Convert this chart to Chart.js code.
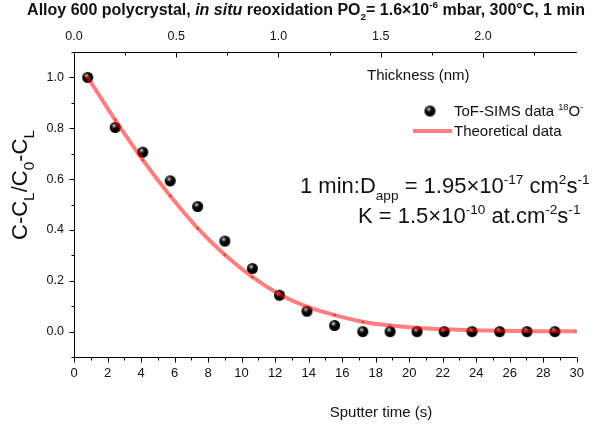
<!DOCTYPE html>
<html>
<head>
<meta charset="utf-8">
<script src="https://cdn.jsdelivr.net/npm/chart.js@4"></script>
<style>
  html, body { margin: 0; padding: 0; background: #fff; }
  #chart { display: block; }
</style>
</head>
<body>
<canvas id="chart" width="593" height="428"></canvas>
<script>
// Data
const sputterTime = [0.82, 2.46, 4.10, 5.74, 7.38, 9.00, 10.64, 12.26, 13.90, 15.55, 17.23, 18.86, 20.47, 22.09, 23.75, 25.40, 27.03, 28.69];
const tofSims = [1.0, 0.803, 0.706, 0.593, 0.492, 0.356, 0.248, 0.143, 0.080, 0.024, 0.0, 0.0, 0.0, 0.0, 0.0, 0.0, 0.0, 0.0];
const theoryTime = [0.82, 2.46, 4.10, 5.74, 7.38, 9.00, 10.64, 12.26, 13.90, 15.55, 17.23, 18.86, 20.47, 22.09, 23.75, 25.40, 27.03, 28.69, 30.0];
const theoretical = [1.0, 0.833, 0.676, 0.534, 0.407, 0.302, 0.215, 0.147, 0.098, 0.065, 0.039, 0.024, 0.015, 0.009, 0.005, 0.003, 0.002, 0.001, 0.001];
const timeTicks = [0, 2, 4, 6, 8, 10, 12, 14, 16, 18, 20, 22, 24, 26, 28, 30];
const thicknessTicks = [0.0, 0.5, 1.0, 1.5, 2.0];
const yTicks = [0.0, 0.2, 0.4, 0.6, 0.8, 1.0];

const FONT = 'Arial, "Liberation Sans", sans-serif';
const LINE_RED = "rgba(255, 0, 0, 0.5)";

// black shaded sphere used as the data marker
const makeBall = (r) => {
  const c = document.createElement("canvas");
  const s = Math.ceil(r * 2 + 2);
  c.width = s; c.height = s;
  const g = c.getContext("2d");
  const m = s / 2;
  g.beginPath();
  g.arc(m, m, r, 0, Math.PI * 2);
  g.fillStyle = "#000";
  g.fill();
  const hl = g.createRadialGradient(m - 1.2, m - 1.8, 0, m - 1.2, m - 1.8, r * 0.75);
  hl.addColorStop(0, "rgba(255,255,255,0.95)");
  hl.addColorStop(0.35, "rgba(200,200,200,0.5)");
  hl.addColorStop(1, "rgba(0,0,0,0)");
  g.beginPath();
  g.arc(m, m, r, 0, Math.PI * 2);
  g.fillStyle = hl;
  g.fill();
  return c;
};
const BALL = makeBall(5.5);

// text with sub/superscript parts: [text, mode] mode '' | 'sub' | 'sup' | 'i'
const drawRich = (ctx, parts, x, y, size, align, weight, small) => {
  const k = small || 0.62;
  const fontFor = (p) => {
    const isSmall = p[1] === "sub" || p[1] === "sup";
    const s = isSmall ? size * k : size;
    return (p[1] === "i" ? "italic " : "") + (weight || "normal") + " " + s + "px " + FONT;
  };
  let w = 0;
  parts.forEach((p) => { ctx.font = fontFor(p); w += ctx.measureText(p[0]).width; });
  let cx = align === "center" ? x - w / 2 : align === "right" ? x - w : x;
  ctx.textAlign = "left";
  ctx.textBaseline = "alphabetic";
  parts.forEach((p) => {
    ctx.font = fontFor(p);
    const dy = p[1] === "sub" ? size * 0.3 : p[1] === "sup" ? -size * 0.42 : 0;
    ctx.fillText(p[0], cx, y + dy);
    cx += ctx.measureText(p[0]).width;
  });
};

const seg = (ctx, x1, y1, x2, y2) => {
  ctx.beginPath();
  ctx.moveTo(x1, y1);
  ctx.lineTo(x2, y2);
  ctx.stroke();
};

const decor = {
  id: "decor",
  afterDraw(chart) {
    const ctx = chart.ctx;
    const { x, x2, y } = chart.scales;
    const { left, right, top, bottom } = chart.chartArea;
    const L = Math.round(left) + 0.5, B = Math.round(bottom) + 0.5, T = Math.round(top) + 0.5;
    ctx.save();
    ctx.strokeStyle = "#000";
    ctx.lineWidth = 1;

    // axis lines
    seg(ctx, L, T, L, B);
    seg(ctx, L, B, right, B);
    seg(ctx, L, T, right, T);

    // bottom ticks, major + minor
    for (let v = 0; v <= 30; v++) {
      const px = Math.round(x.getPixelForValue(v)) + 0.5;
      seg(ctx, px, B, px, B + (v % 2 === 0 ? 5 : 3));
    }
    // left ticks
    for (let k = -1; k <= 11; k++) {
      const py = Math.round(y.getPixelForValue(k / 10)) + 0.5;
      seg(ctx, L, py, L - (k % 2 === 0 ? 5 : 3), py);
    }
    // top ticks, pointing inward
    for (let k = 0; k * 0.25 <= x2.max; k++) {
      const px = Math.round(x2.getPixelForValue(k * 0.25)) + 0.5;
      seg(ctx, px, T, px, T + (k % 2 === 0 ? 5 : 3));
    }

    ctx.fillStyle = "#111";
    // title
    drawRich(ctx, [
      ["Alloy 600 polycrystal, ", ""],
      ["in situ", "i"],
      [" reoxidation PO", ""],
      ["2", "sub"],
      ["= 1.6×10", ""],
      ["-6", "sup"],
      [" mbar, 300°C, 1 min", ""],
    ], 306, 15, 16, "center", "bold");

    // axis titles
    drawRich(ctx, [["Thickness (nm)", ""]], 367, 80, 15, "left");
    drawRich(ctx, [["Sputter time (s)", ""]], 381, 417, 15, "center");
    ctx.save();
    ctx.translate(27, 185);
    ctx.rotate(-Math.PI / 2);
    drawRich(ctx, [["C-C", ""], ["L", "sub"], ["/C", ""], ["0", "sub"], ["-C", ""], ["L", "sub"]], 0, 0, 22, "center", "normal", 0.7);
    ctx.restore();

    // legend
    ctx.drawImage(BALL, 430 - BALL.width / 2, 111 - BALL.height / 2);
    drawRich(ctx, [["ToF-SIMS data ", ""], ["18", "sup"], ["O", ""], ["-", "sup"]], 454, 116, 15, "left");
    ctx.strokeStyle = LINE_RED;
    ctx.lineWidth = 4;
    seg(ctx, 413, 131, 452, 131);
    drawRich(ctx, [["Theoretical data", ""]], 454, 136, 15, "left");

    // annotations
    drawRich(ctx, [
      ["1 min:D", ""], ["app", "sub"], [" = 1.95×10", ""], ["-17", "sup"],
      [" cm", ""], ["2", "sup"], ["s", ""], ["-1", "sup"],
    ], 300, 193, 22, "left");
    drawRich(ctx, [
      ["K = 1.5×10", ""], ["-10", "sup"], [" at.cm", ""], ["-2", "sup"], ["s", ""], ["-1", "sup"],
    ], 358, 223, 22, "left");
    ctx.restore();
  },
};

const DATA = {
  datasets: [
    {
      label: "Theoretical data",
      data: theoryTime.map((t, i) => ({ x: t, y: theoretical[i] })),
      showLine: true,
      borderColor: LINE_RED,
      borderWidth: 4,
      backgroundColor: LINE_RED,
      pointRadius: 1.5,
      pointBorderWidth: 0,
      cubicInterpolationMode: "monotone",
      order: 0,
    },
    {
      label: "ToF-SIMS data 18O",
      data: sputterTime.map((t, i) => ({ x: t, y: tofSims[i] })),
      pointStyle: BALL,
      showLine: false,
      order: 1,
    },
  ],
};

const CONFIG = {
  type: "scatter",
  data: DATA,
  options: {
    responsive: false,
    animation: false,
    devicePixelRatio: 1,
    layout: { padding: { left: 0, right: 14, top: 0, bottom: 0 } },
    plugins: {
      legend: { display: false },
      title: { display: false },
      tooltip: { enabled: false },
    },
    scales: {
      x: {
        type: "linear",
        position: "bottom",
        min: 0,
        max: 30,
        border: { display: false },
        grid: { display: false, drawTicks: false },
        afterBuildTicks: (s) => { s.ticks = timeTicks.map((v) => ({ value: v })); },
        afterFit: (s) => { s.height = 71; },
        ticks: {
          padding: 9,
          color: "#111",
          maxRotation: 0,
          font: { family: FONT, size: 13 },
        },
      },
      x2: {
        type: "linear",
        position: "top",
        min: 0,
        max: 2.459,
        border: { display: false },
        grid: { display: false, drawTicks: false },
        afterBuildTicks: (s) => { s.ticks = thicknessTicks.map((v) => ({ value: v })); },
        afterFit: (s) => { s.height = 52; },
        ticks: {
          padding: 8,
          color: "#111",
          maxRotation: 0,
          font: { family: FONT, size: 12.5 },
          callback: (v) => Number(v).toFixed(1),
        },
      },
      y: {
        type: "linear",
        min: -0.1,
        max: 1.1,
        border: { display: false },
        grid: { display: false, drawTicks: false },
        afterBuildTicks: (s) => { s.ticks = yTicks.map((v) => ({ value: v })); },
        afterFit: (s) => { s.width = 74; },
        ticks: {
          padding: 10,
          color: "#111",
          font: { family: FONT, size: 12.5 },
          callback: (v) => Number(v).toFixed(1),
        },
      },
    },
  },
  plugins: [decor],
};

new Chart(document.getElementById("chart"), CONFIG);
</script>
</body>
</html>
